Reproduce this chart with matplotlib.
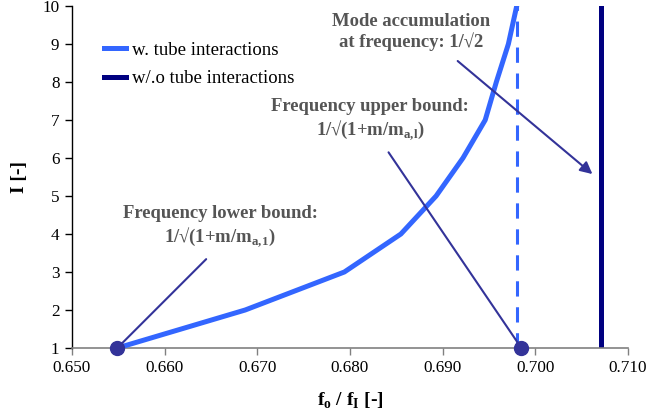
import matplotlib.pyplot as plt

# curve with tube interactions
freq_w = [0.6549, 0.6687, 0.6794, 0.6855, 0.6893, 0.6922, 0.6946, 0.6958, 0.6971, 0.6980]
inter_w = [1, 2, 3, 4, 5, 6, 7, 8, 9, 10]

# bounds / accumulation
f_lower = 0.6549
f_upper = 0.6985
f_upper_dash = 0.6980
f_accum = 0.7071

xticks = [0.650, 0.660, 0.670, 0.680, 0.690, 0.700, 0.710]
yticks = [1, 2, 3, 4, 5, 6, 7, 8, 9, 10]

plt.rcParams['font.family'] = ['Liberation Serif', 'DejaVu Serif']
plt.rcParams['mathtext.fontset'] = 'custom'
plt.rcParams['mathtext.rm'] = 'Liberation Serif'
plt.rcParams['mathtext.bf'] = 'Liberation Serif:bold'

light = '#3366ff'
navy = '#000080'
arrow_c = '#333399'
txt_c = '#555555'

fig = plt.figure(figsize=(6.48, 4.16), dpi=100)
ax = fig.add_axes([0.111, 0.1635, 0.858, 0.822])

ax.plot(freq_w, inter_w, color=light, lw=3.6, label='w. tube interactions', zorder=3)
ax.plot([f_upper_dash, f_upper_dash], [yticks[0], yticks[-1]], color=light, lw=2.2,
        dashes=(5, 3.5), zorder=2)
ax.plot([f_accum, f_accum], [yticks[0], yticks[-1]], color=navy, lw=3.6,
        label='w/.o tube interactions', zorder=2)

ax.plot([f_lower, f_upper], [1, 1], 'o', color=arrow_c, ms=10, zorder=5, clip_on=False)

# annotations
ann = dict(ha='center', va='center', fontsize=13.4, fontweight='bold', color=txt_c,
           linespacing=1.2)

ax.annotate('', xy=(f_lower, 1), xytext=(0.6647, 3.39),
            arrowprops=dict(arrowstyle='-', color=arrow_c, lw=1.5))
ax.text(0.6660, 4.18, 'Frequency lower bound:\n1/√(1+m/m$_{\\mathbf{a{,}1}}$)', **ann)

ax.annotate('', xy=(f_upper, 1), xytext=(0.6840, 6.21),
            arrowprops=dict(arrowstyle='-', color=arrow_c, lw=1.5))
ax.text(0.6822, 7.0, 'Frequency upper bound:\n1/√(1+m/m$_{\\mathbf{a{,}l}}$)', **ann)

ax.annotate('', xy=(0.7064, 5.53), xytext=(0.6914, 8.6),
            arrowprops=dict(arrowstyle='-|>', color=arrow_c, lw=1.5, mutation_scale=18))
ax.text(0.6866, 9.32, 'Mode accumulation\nat frequency: 1/√2', **ann)

ax.set_xlim(0.650, 0.710)
ax.set_ylim(1, 10)
ax.set_xticks(xticks)
ax.set_xticklabels(['%.3f' % v for v in xticks])
ax.set_yticks(yticks)
ax.tick_params(labelsize=12.3, length=5, width=1, pad=4)
ax.tick_params(axis='x', colors='#808080', labelcolor='black')
for s in ['top', 'right']:
    ax.spines[s].set_visible(False)
ax.spines['bottom'].set_color('#808080')
ax.spines['bottom'].set_linewidth(1.2)
ax.spines['left'].set_linewidth(1.0)

ax.set_xlabel('f$_{\\mathbf{o}}$ / f$_{\\mathbf{I}}$ [-]', fontsize=14, fontweight='bold', labelpad=10)
ax.set_ylabel('I [-]', fontsize=14, fontweight='bold', labelpad=10)

ax.legend(loc='upper left', bbox_to_anchor=(0.028, 0.945), frameon=False, fontsize=13.5,
          handlelength=1.15, handletextpad=0.35, labelspacing=0.6)

fig.savefig('out.png', dpi=100)
